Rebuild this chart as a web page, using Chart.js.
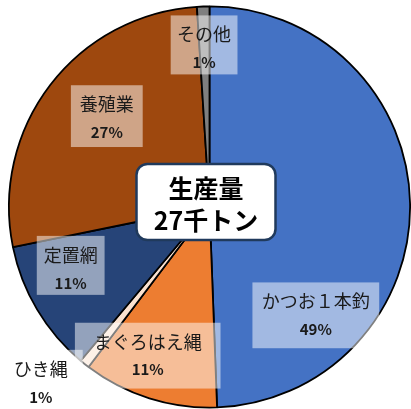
<!DOCTYPE html>
<html><head><meta charset="utf-8">
<script src="https://cdn.jsdelivr.net/npm/chart.js@4"></script>
<style>html,body{margin:0;padding:0;background:#fff}#w{width:411px;height:409px}</style>
</head><body><div id="w"><canvas id="c" width="411" height="409"></canvas></div>
<script>
const categories = ["かつお１本釣", "まぐろはえ縄", "ひき縄", "定置網", "養殖業", "その他"];
const shares = [49.4, 10.9, 0.8, 10.7, 27.2, 1.0];
const colors = ["#4472C4", "#ED7D31", "#FBE2D0", "#264478", "#9E480E", "#7F7F7F"];
const centerLines = ["生産量", "27千トン"];

// label box placement relative to pie centre, in units of radius (dx, dy, w, h)
const labelBoxes = [
  [0.530, 0.540, 0.632, 0.328],
  [-0.308, 0.741, 0.726, 0.328],
  [-0.841, 0.866, 0.418, 0.308],
  [-0.692, 0.291, 0.338, 0.294],
  [-0.512, -0.453, 0.358, 0.308],
  [-0.027, -0.808, 0.333, 0.294]
];

const labelPlugin = {
  id: 'labels',
  afterDatasetsDraw(chart) {
    const ctx = chart.ctx;
    const arc = chart.getDatasetMeta(0).data[0];
    const cx = arc.x, cy = arc.y, r = arc.outerRadius;
    const total = shares.reduce((a, b) => a + b, 0);
    ctx.save();
    labelBoxes.forEach((b, i) => {
      const bx = cx + b[0] * r, by = cy + b[1] * r, bw = b[2] * r, bh = b[3] * r;
      ctx.fillStyle = 'rgba(255,255,255,0.5)';
      ctx.fillRect(bx - bw / 2, by - bh / 2, bw, bh);
      ctx.fillStyle = '#1a1a1a';
      ctx.textAlign = 'center';
      ctx.textBaseline = 'middle';
      ctx.font = '18px "Noto Sans CJK JP"';
      ctx.fillText(categories[i], bx, by - bh / 2 + 19);
      ctx.font = 'bold 15px "Noto Sans CJK JP"';
      ctx.fillText(Math.round(shares[i] / total * 100) + '%', bx, by - bh / 2 + 47);
    });
    // centre title box
    const w = 139, h = 76, x = cx - 73, y = cy - 43;
    ctx.beginPath();
    ctx.roundRect(x, y, w, h, 11);
    ctx.fillStyle = '#ffffff';
    ctx.fill();
    ctx.lineWidth = 2.5;
    ctx.strokeStyle = '#203A5C';
    ctx.stroke();
    ctx.fillStyle = '#000';
    ctx.font = 'bold 25px "Noto Sans CJK JP"';
    ctx.fillText(centerLines[0], x + w / 2, y + 24);
    ctx.fillText(centerLines[1], x + w / 2, y + 56);
    ctx.restore();
  }
};

new Chart(document.getElementById('c'), {
  type: 'pie',
  data: {
    labels: categories,
    datasets: [{ data: shares, backgroundColor: colors, borderColor: '#000', borderWidth: 1.8, borderAlign: 'center' }]
  },
  options: {
    responsive: false,
    animation: false,
    rotation: 0,
    layout: { padding: { left: 8, right: 0, top: 5, bottom: 0 } },
    plugins: { legend: { display: false }, tooltip: { enabled: false } }
  },
  plugins: [labelPlugin]
});
</script></body></html>
